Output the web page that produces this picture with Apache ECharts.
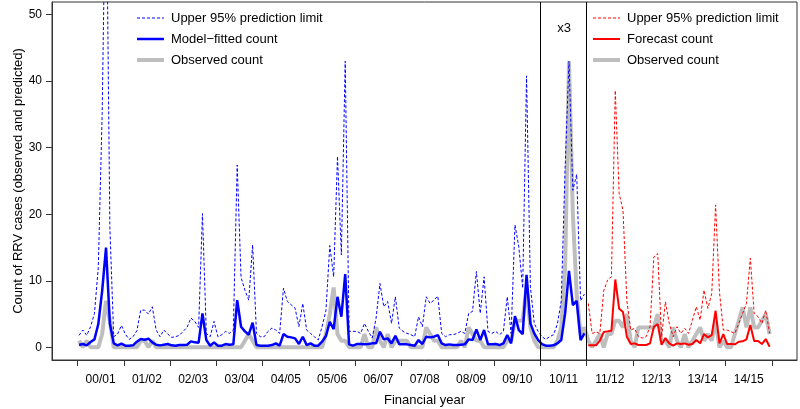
<!DOCTYPE html>
<html>
<head>
<meta charset="utf-8">
<script src="https://cdn.jsdelivr.net/npm/echarts@6/dist/echarts.min.js"></script>
<style>
  html, body { margin: 0; padding: 0; background: #fff; }
  #main { width: 800px; height: 409px; }
</style>
</head>
<body>
<div id="main"></div>
<script>
// financial years, July 2000 - June 2015 (monthly)
const yearLabels = ['00/01', '01/02', '02/03', '03/04', '04/05', '05/06', '06/07', '07/08',
  '08/09', '09/10', '10/11', '11/12', '12/13', '13/14', '14/15'];

// observed counts, 180 months
const observed = [
  1, 0, 1, 0, 0, 0, 2, 7, 4, 0, 0, 0,
  0, 0, 0, 0, 1, 1, 0, 1, 0, 0, 0, 0,
  0, 0, 0, 0, 0, 0, 0, 0, 0, 0, 0, 0,
  0, 0, 0, 0, 0, 0, 0, 1, 2, 1, 0, 0,
  0, 0, 0, 0, 0, 0, 0, 0, 0, 0, 0, 0,
  0, 0, 0, 0, 2, 5, 9, 2, 1, 1, 0, 0,
  0, 0, 2, 0, 0, 3, 1, 0, 2, 0, 1, 1,
  1, 1, 0, 0, 0, 0, 3, 2, 1, 1, 0, 0,
  0, 0, 0, 1, 0, 3, 2, 1, 1, 0, 0, 0,
  0, 0, 0, 1, 1, 4, 4, 4, 9, 3, 1, 0,
  0, 0, 0, 0, 1, 3, 12, 43, 20, 8, 2, 3,
  1, 0, 1, 2, 0, 2, 2, 4, 4, 3, 5, 1,
  0, 3, 3, 3, 3, 3, 5, 1, 1, 0, 3, 1,
  0, 2, 0, 1, 2, 3, 1, 2, 1, 4, 0, 1,
  0, 0, 2, 4, 6, 3, 6, 3, 3, 4, 5, 2
];

// model-fitted count, July 2000 - June 2011
const fitted = [
  0.35, 0.5, 0.3, 0.8, 1.2, 3.5, 8.5, 15, 3.6, 0.6, 0.3, 0.55,
  0.25, 0.25, 0.3, 0.85, 1.25, 1.15, 1.3, 0.75, 0.4, 0.3, 0.4, 0.5,
  0.3, 0.25, 0.35, 0.35, 0.4, 0.9, 0.75, 0.7, 5.1, 1.1, 0.25, 0.75,
  0.25, 0.25, 0.5, 0.4, 0.45, 7.1, 3.1, 2.4, 1.9, 3.7, 0.35, 0.25,
  0.25, 0.25, 0.35, 0.6, 0.25, 2.0, 1.6, 1.5, 1.35, 0.5, 1.6, 0.35,
  0.6, 0.25, 0.25, 0.85, 1.7, 3.85, 2.75, 7.6, 4.6, 11, 0.45, 0.25,
  0.5, 0.5, 0.45, 0.5, 0.6, 0.6, 2.35, 1.2, 1.35, 0.6, 1.75, 0.45,
  0.45, 0.45, 0.35, 0.25, 1.1, 0.5, 1.6, 1.5, 1.6, 1.85, 0.6, 0.35,
  0.45, 0.35, 0.35, 0.4, 0.45, 1.2, 1.1, 2.7, 1.1, 2.6, 0.45, 0.45,
  0.5, 0.35, 0.6, 1.85, 0.6, 4.7, 2.6, 2.0, 10.9, 3.6, 2.1, 1.1,
  0.5, 0.25, 0.25, 0.3, 0.6, 1.1, 5.1, 11.5, 6.35, 7.0, 1.1, 2.1
];

// upper 95% prediction limit of the fitted count
const fittedUpper = [
  1.8, 2.6, 1.8, 3.1, 5.1, 12, 35, 75, 18, 1.6, 2.0, 3.3,
  2.0, 1.2, 1.6, 2.5, 5.6, 5.6, 5.0, 6.1, 2.6, 1.6, 2.6, 2.0,
  1.5, 1.6, 1.8, 2.4, 3.0, 4.4, 3.9, 3.0, 20.1, 2.1, 1.6, 3.9,
  1.6, 1.9, 2.4, 2.1, 2.6, 27.4, 10.5, 8.6, 7.1, 15.4, 2.1, 1.6,
  1.6, 2.4, 2.9, 2.6, 2.1, 8.9, 6.9, 6.4, 5.9, 3.1, 6.6, 2.6,
  2.1, 1.6, 1.1, 3.1, 5.5, 15.3, 10.6, 28.7, 13.9, 43, 2.4, 2.4,
  2.4, 2.1, 3.6, 2.4, 1.4, 4.4, 9.6, 6.1, 6.9, 3.6, 7.6, 2.9,
  2.4, 2.1, 1.9, 1.6, 4.6, 3.1, 7.6, 6.6, 7.1, 7.7, 2.1, 1.6,
  1.9, 1.9, 2.1, 2.4, 2.1, 5.1, 5.4, 11.4, 5.1, 10.6, 2.4, 2.1,
  2.4, 1.9, 2.4, 7.6, 2.1, 18.4, 15.1, 8.9, 40.8, 9.1, 3.6, 2.4,
  1.6, 1.2, 1.6, 1.9, 3.5, 7, 27, 43, 23.6, 26, 7, 8
];

// forecast count, July 2011 - June 2015
const forecast = [
  0.3, 0.3, 0.3, 1.0, 2.3, 2.4, 2.5, 10.2, 5.8, 5.3, 1.6, 0.5,
  0.6, 0.35, 0.35, 0.35, 0.6, 3.1, 3.5, 0.4, 1.4, 0.6, 0.25, 0.6,
  0.5, 0.6, 0.4, 0.5, 1.1, 0.6, 2.0, 1.5, 1.85, 5.5, 0.6, 2.0,
  0.5, 0.5, 0.45, 0.85, 0.9, 1.2, 3.35, 0.95, 0.95, 0.5, 1.25, 0.1
];

const forecastUpper = [
  6.6, 2.1, 2.3, 2.1, 8.5, 10.1, 10.6, 38.6, 23.1, 20.6, 7.0, 2.6,
  2.85, 1.6, 1.4, 1.6, 3.1, 13.6, 14.1, 1.6, 6.85, 3.6, 1.6, 3.1,
  2.1, 2.85, 2.1, 4.1, 6.1, 4.1, 8.6, 5.85, 8.1, 21.4, 8.35, 2.6,
  2.6, 2.35, 2.1, 3.6, 5.1, 6.6, 13.4, 5.1, 4.6, 3.6, 5.6, 2.1
];

const forecastStart = fitted.length;   // month index of July 2011

// month index -> x value (ticks sit on year boundaries)
const toPairs = (values, start) => values.map((v, k) => [start + k + 0.4, v]);

const yearTicks = [];
const yearMids = [];
for (let k = 0; k <= yearLabels.length; k++) yearTicks.push(k * 12);
for (let k = 0; k < yearLabels.length; k++) yearMids.push(k * 12 + 6);
const countTicks = [0, 10, 20, 30, 40, 50];

const blue = '#0000ff';
const red = '#ff0000';
const grey = '#bebebe';
const font = 'Liberation Sans, Arial, sans-serif';

const myChart = echarts.init(document.getElementById('main'));

// legend rows drawn by hand, R style
const legendRow = (x, y, text, style) => [
  { type: 'line', shape: { x1: x, y1: y, x2: x + 27, y2: y }, style: style, silent: true },
  { type: 'text', x: x + 34, y: y, style: { text: text, font: '13px ' + font, fill: '#000', verticalAlign: 'middle' }, silent: true }
];

const option = {
  animation: false,
  grid: {
    left: 52, right: 3, top: 2, bottom: 49,
    outerBoundsMode: 'none',
    containLabel: false,
    show: true, borderColor: '#333', borderWidth: 1, backgroundColor: 'transparent'
  },
  xAxis: {
    type: 'value',
    min: -6.6,
    max: 186.5,
    name: 'Financial year',
    nameLocation: 'middle',
    nameGap: 34,
    nameTextStyle: { fontSize: 13, color: '#000', fontFamily: font },
    axisLine: { show: true, onZero: false, lineStyle: { color: '#333', width: 1 } },
    splitLine: { show: false },
    axisTick: { show: true, inside: false, length: 6, customValues: yearTicks, lineStyle: { color: '#333' } },
    axisLabel: {
      customValues: yearMids,
      margin: 14,
      fontSize: 12,
      color: '#000',
      fontFamily: font,
      formatter: v => yearLabels[Math.floor(v / 12)]
    }
  },
  yAxis: {
    type: 'value',
    min: -1.9,
    max: 51.9,
    axisLine: { show: true, onZero: false, lineStyle: { color: '#333', width: 1 } },
    splitLine: { show: false },
    axisTick: { show: true, inside: false, length: 6, customValues: countTicks, lineStyle: { color: '#333' } },
    axisLabel: {
      customValues: countTicks,
      margin: 10,
      fontSize: 12,
      color: '#000',
      fontFamily: font
    }
  },
  series: [
    {
      name: 'Observed count',
      type: 'line',
      data: toPairs(observed, 0),
      symbol: 'none',
      lineStyle: { color: grey, width: 4 },
      z: 1
    },
    {
      name: 'Upper 95% prediction limit',
      type: 'line',
      data: toPairs(fittedUpper, 0),
      symbol: 'none',
      lineStyle: { color: blue, width: 1, type: [3, 2] },
      z: 2
    },
    {
      name: 'Model-fitted count',
      type: 'line',
      data: toPairs(fitted, 0),
      symbol: 'none',
      lineStyle: { color: blue, width: 2.5 },
      z: 3,
      markLine: {
        silent: true,
        symbol: 'none',
        label: { show: false },
        lineStyle: { color: '#000', width: 1, type: 'solid' },
        data: [{ xAxis: 120 }, { xAxis: forecastStart }]
      }
    },
    {
      name: 'Upper 95% prediction limit (forecast)',
      type: 'line',
      data: toPairs(forecastUpper, forecastStart),
      symbol: 'none',
      lineStyle: { color: red, width: 1, type: [3, 2] },
      z: 2
    },
    {
      name: 'Forecast count',
      type: 'line',
      data: toPairs(forecast, forecastStart),
      symbol: 'none',
      lineStyle: { color: red, width: 2 },
      z: 3
    }
  ],
  graphic: [
    // y axis title
    {
      type: 'text', x: 18, y: 181, rotation: Math.PI / 2, silent: true,
      style: { text: 'Count of RRV cases (observed and predicted)', font: '13px ' + font, fill: '#000', align: 'center', verticalAlign: 'middle' }
    },
    ...legendRow(137, 18, 'Upper 95% prediction limit', { stroke: blue, lineWidth: 1, lineDash: [3, 2] }),
    ...legendRow(137, 39, 'Model\u2212fitted count', { stroke: blue, lineWidth: 2.5 }),
    ...legendRow(137, 60, 'Observed count', { stroke: grey, lineWidth: 4 }),
    ...legendRow(593, 18, 'Upper 95% prediction limit', { stroke: red, lineWidth: 1, lineDash: [3, 2] }),
    ...legendRow(593, 39, 'Forecast count', { stroke: red, lineWidth: 2 }),
    ...legendRow(593, 60, 'Observed count', { stroke: grey, lineWidth: 4 }),
    { type: 'text', x: 564, y: 28, style: { text: 'x3', font: '13px ' + font, fill: '#000', align: 'center', verticalAlign: 'middle' }, silent: true }
  ]
};

myChart.setOption(option);
</script>
</body>
</html>
